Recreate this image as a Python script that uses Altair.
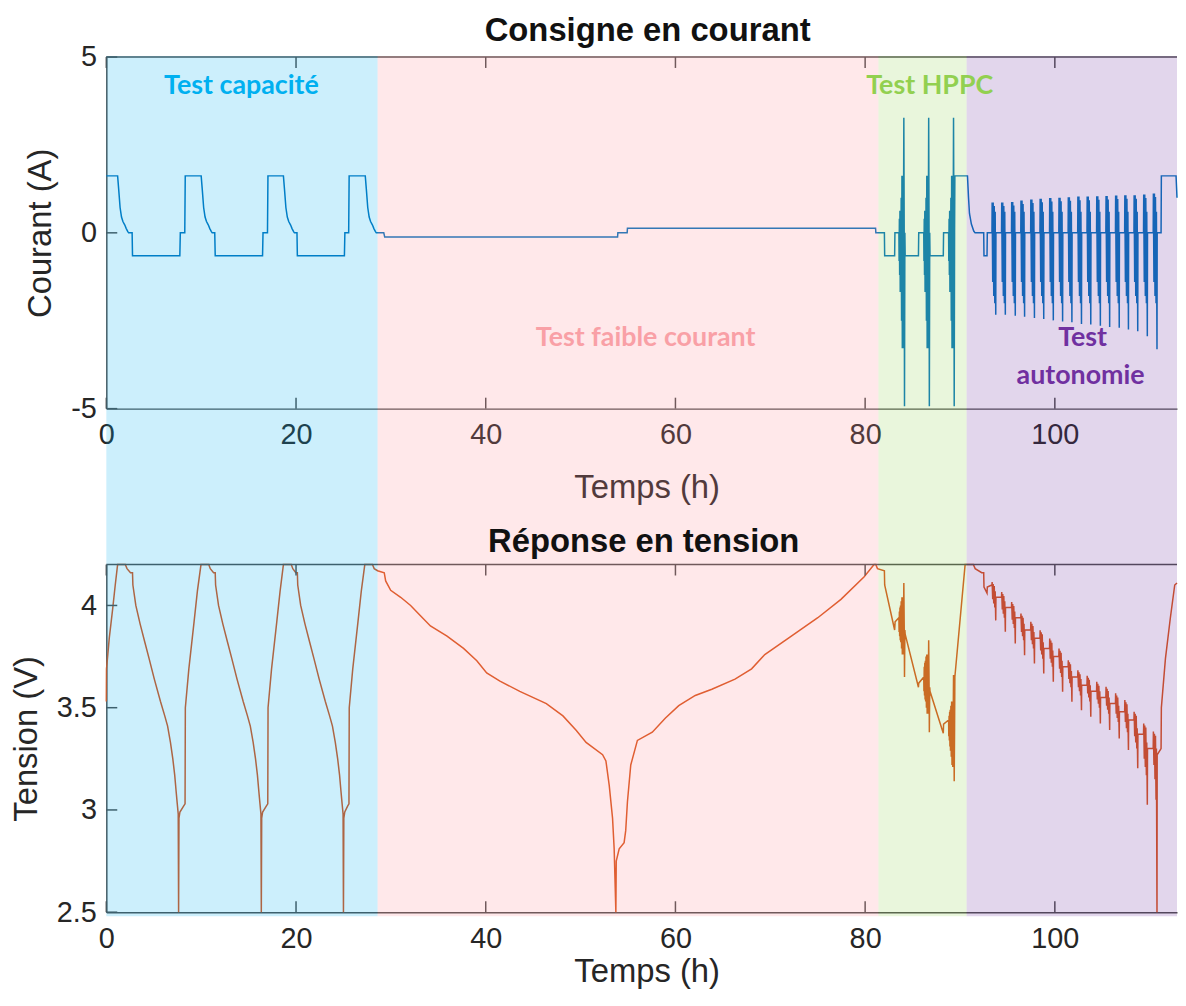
import altair as alt
import pandas as pd

# ---------------- values ----------------
xticks = [0, 20, 40, 60, 80, 100]
yticks_cur = [-5, 0, 5]
yticks_volt = [2.5, 3, 3.5, 4]

# Courant (A) : test capacité
cap_t = [0.0, 1.19, 1.30, 1.45, 1.60, 1.75, 1.95, 2.10, 2.25, 2.35,
         2.72, 2.76, 7.75, 7.80, 8.27, 8.32, 10.00,
         10.11, 10.26, 10.41, 10.56, 10.76, 10.91, 11.06, 11.16,
         11.43, 11.48, 16.47, 16.52, 16.99, 17.04, 18.67,
         18.78, 18.93, 19.08, 19.23, 19.43, 19.58, 19.73, 19.83,
         20.10, 20.14, 25.10, 25.15, 25.55, 25.60, 27.30,
         27.41, 27.56, 27.71, 27.86, 28.06, 28.21, 28.36, 28.46,
         29.25, 29.35]
cap_i = [1.62, 1.62, 1.25, 0.72, 0.45, 0.32, 0.22, 0.12, 0.04, 0.0,
         0.0, -0.65, -0.65, 0.0, 0.0, 1.62, 1.62,
         1.25, 0.72, 0.45, 0.32, 0.22, 0.12, 0.04, 0.0,
         0.0, -0.65, -0.65, 0.0, 0.0, 1.62, 1.62,
         1.25, 0.72, 0.45, 0.32, 0.22, 0.12, 0.04, 0.0,
         0.0, -0.65, -0.65, 0.0, 0.0, 1.62, 1.62,
         1.25, 0.72, 0.45, 0.32, 0.22, 0.12, 0.04, 0.0,
         0.0, -0.12]

# Courant : test faible courant
low_t = [53.90, 53.93, 54.91, 54.94, 81.10, 81.13, 82.03, 82.06, 83.11, 83.14]
low_i = [-0.12, 0.0, 0.0, 0.13, 0.13, 0.0, 0.0, -0.65, -0.65, 0.0]

# Courant : test HPPC
hppc_t = [83.56, 83.58, 83.61, 83.64, 83.67, 83.70, 83.73, 83.76, 83.80, 83.84,
          83.88, 83.92, 83.96, 84.00, 84.04, 84.08, 84.12, 84.15, 84.19, 84.22,
          85.62, 85.65,
          86.18, 86.20, 86.23, 86.26, 86.29, 86.32, 86.35, 86.38, 86.42, 86.46,
          86.50, 86.54, 86.58, 86.62, 86.66, 86.70, 86.74, 86.77, 86.81, 86.84,
          88.24, 88.27,
          88.80, 88.82, 88.85, 88.88, 88.91, 88.94, 88.97, 89.00, 89.04, 89.08,
          89.12, 89.16, 89.20, 89.24, 89.28, 89.32, 89.36, 89.39, 89.43,
          89.46, 90.79, 90.90, 91.00, 91.20, 91.45, 91.59, 92.50, 92.53, 92.85, 92.88]
hppc_i = [0.0, -0.8, 0.4, -1.2, 0.63, -1.68, 0.63, -1.68, 1.0, -2.5,
          1.62, -3.28, 1.62, -3.28, 0.0, 3.27, 0.0, -4.93, 0.0, -0.65,
          -0.65, 0.0,
          0.0, -0.8, 0.4, -1.2, 0.63, -1.68, 0.63, -1.68, 1.0, -2.5,
          1.62, -3.28, 1.62, -3.28, 0.0, 3.27, 0.0, -4.93, 0.0, -0.65,
          -0.65, 0.0,
          0.0, -0.8, 0.4, -1.2, 0.63, -1.68, 0.63, -1.68, 1.0, -2.5,
          1.62, -3.28, 1.62, -3.28, 0.0, 3.27, 0.0, -4.93, 0.0,
          1.62, 1.62, 1.0, 0.55, 0.25, 0.05, 0.0, 0.0, -0.65, -0.65, 0.0]

# Test autonomie : 18 salves (temps communs au courant et à la tension)
auto_t = [
    93.37, 93.39, 93.45, 93.50, 93.56, 93.61, 93.67, 93.71, 93.77, 93.79,
    94.38, 94.40, 94.46, 94.51, 94.57, 94.62, 94.68, 94.72, 94.78, 94.80,
    95.43, 95.45, 95.51, 95.56, 95.62, 95.67, 95.73, 95.77, 95.83, 95.85,
    96.41, 96.43, 96.49, 96.54, 96.60, 96.65, 96.71, 96.75, 96.81, 96.83,
    97.45, 97.47, 97.53, 97.58, 97.64, 97.69, 97.75, 97.79, 97.85, 97.87,
    98.43, 98.45, 98.51, 98.56, 98.62, 98.67, 98.73, 98.77, 98.83, 98.85,
    99.44, 99.46, 99.52, 99.57, 99.63, 99.68, 99.74, 99.78, 99.84, 99.86,
    100.42, 100.44, 100.50, 100.55, 100.61, 100.66, 100.72, 100.76, 100.82, 100.84,
    101.40, 101.42, 101.48, 101.53, 101.59, 101.64, 101.70, 101.74, 101.80, 101.82,
    102.41, 102.43, 102.49, 102.54, 102.60, 102.65, 102.71, 102.75, 102.81, 102.83,
    103.39, 103.41, 103.47, 103.52, 103.58, 103.63, 103.69, 103.73, 103.79, 103.81,
    104.40, 104.42, 104.48, 104.53, 104.59, 104.64, 104.70, 104.74, 104.80, 104.82,
    105.38, 105.40, 105.46, 105.51, 105.57, 105.62, 105.68, 105.72, 105.78, 105.80,
    106.39, 106.41, 106.47, 106.52, 106.58, 106.63, 106.69, 106.73, 106.79, 106.81,
    107.36, 107.38, 107.44, 107.49, 107.55, 107.60, 107.66, 107.70, 107.76, 107.78,
    108.34, 108.36, 108.42, 108.47, 108.53, 108.58, 108.64, 108.68, 108.74, 108.76,
    109.35, 109.37, 109.43, 109.48, 109.54, 109.59, 109.65, 109.69, 109.75, 109.77,
    110.37, 110.39, 110.45, 110.50, 110.56, 110.61, 110.67, 110.71, 110.77, 110.79,
]
auto_i = [
    0, 0.86, -1.4, 0.86, -1.8, 0.76, -2.0, 0.6, -2.33, 0,
    0, 0.86, -1.4, 0.86, -1.8, 0.76, -2.0, 0.6, -2.33, 0,
    0, 0.88, -1.4, 0.88, -1.8, 0.78, -2.0, 0.6, -2.36, 0,
    0, 0.92, -1.4, 0.92, -1.8, 0.82, -2.0, 0.6, -2.39, 0,
    0, 0.95, -1.4, 0.95, -1.8, 0.85, -2.0, 0.6, -2.42, 0,
    0, 0.97, -1.4, 0.97, -1.8, 0.87, -2.0, 0.6, -2.45, 0,
    0, 0.99, -1.4, 0.99, -1.8, 0.89, -2.0, 0.6, -2.49, 0,
    0, 1.00, -1.4, 1.00, -1.8, 0.90, -2.0, 0.6, -2.52, 0,
    0, 1.01, -1.4, 1.01, -1.8, 0.91, -2.0, 0.6, -2.54, 0,
    0, 1.03, -1.4, 1.03, -1.8, 0.93, -2.0, 0.6, -2.59, 0,
    0, 1.03, -1.4, 1.03, -1.8, 0.93, -2.0, 0.6, -2.61, 0,
    0, 1.04, -1.4, 1.04, -1.8, 0.94, -2.0, 0.6, -2.64, 0,
    0, 1.05, -1.4, 1.05, -1.8, 0.95, -2.0, 0.6, -2.68, 0,
    0, 1.06, -1.4, 1.06, -1.8, 0.96, -2.0, 0.6, -2.70, 0,
    0, 1.07, -1.4, 1.07, -1.8, 0.97, -2.0, 0.6, -2.75, 0,
    0, 1.07, -1.4, 1.07, -1.8, 0.97, -2.0, 0.6, -2.80, 0,
    0, 1.09, -1.4, 1.09, -1.8, 0.99, -2.0, 0.6, -2.94, 0,
    0, 1.12, -1.4, 1.12, -1.8, 1.02, -2.0, 0.6, -3.31, 0,
]
auto_v = [
    4.10, 4.115, 4.03, 4.105, 4.01, 4.095, 3.99, 4.07, 3.927, 4.04,
    4.04, 4.066, 3.98, 4.056, 3.96, 4.046, 3.94, 4.02, 3.871, 3.99,
    3.99, 4.017, 3.93, 4.007, 3.91, 3.997, 3.89, 3.97, 3.814, 3.94,
    3.94, 3.96, 3.87, 3.95, 3.85, 3.94, 3.83, 3.91, 3.757, 3.88,
    3.88, 3.92, 3.83, 3.91, 3.81, 3.90, 3.79, 3.87, 3.716, 3.84,
    3.84, 3.879, 3.78, 3.869, 3.76, 3.859, 3.74, 3.82, 3.667, 3.79,
    3.79, 3.838, 3.74, 3.828, 3.72, 3.818, 3.70, 3.78, 3.627, 3.75,
    3.75, 3.789, 3.69, 3.779, 3.67, 3.769, 3.65, 3.73, 3.578, 3.70,
    3.70, 3.732, 3.64, 3.722, 3.62, 3.712, 3.60, 3.68, 3.529, 3.65,
    3.65, 3.683, 3.60, 3.673, 3.58, 3.663, 3.56, 3.64, 3.488, 3.61,
    3.61, 3.656, 3.57, 3.646, 3.55, 3.636, 3.53, 3.61, 3.456, 3.58,
    3.58, 3.627, 3.54, 3.617, 3.52, 3.607, 3.50, 3.58, 3.423, 3.55,
    3.55, 3.602, 3.51, 3.592, 3.49, 3.582, 3.47, 3.55, 3.391, 3.52,
    3.52, 3.57, 3.47, 3.56, 3.45, 3.55, 3.43, 3.51, 3.35, 3.48,
    3.48, 3.537, 3.43, 3.527, 3.40, 3.517, 3.38, 3.47, 3.293, 3.44,
    3.44, 3.48, 3.36, 3.47, 3.33, 3.46, 3.30, 3.40, 3.204, 3.37,
    3.37, 3.423, 3.25, 3.413, 3.21, 3.403, 3.17, 3.33, 3.025, 3.30,
    3.30, 3.383, 3.22, 3.373, 3.15, 3.363, 3.05, 3.30, 2.50, 3.27,
]

# Courant : fin (recharge)
end_t = [111.20, 111.23, 112.78, 112.88]
end_i = [0.0, 1.62, 1.62, 1.0]

# Tension (V) : test capacité
vcap_t = [0.0, 0.02, 0.31, 0.66, 0.94, 1.19, 2.00, 2.18, 2.55,
          2.76, 2.80, 3.11, 3.56, 4.06, 4.51, 5.06, 5.71, 6.16, 6.46, 6.76,
          7.01, 7.21, 7.36, 7.48, 7.58, 7.62, 7.66, 7.76, 8.16, 8.30,
          8.33, 8.70, 9.25, 9.60, 9.98, 10.80, 10.96, 11.31,
          11.48, 11.52, 11.83, 12.28, 12.78, 13.23, 13.78, 14.43, 14.88, 15.18,
          15.48, 15.73, 15.93, 16.08, 16.20, 16.30, 16.34, 16.38, 16.48, 16.88, 17.02,
          17.05, 17.42, 17.97, 18.32, 18.67, 19.50, 19.66, 19.98,
          20.14, 20.18, 20.49, 20.94, 21.44, 21.89, 22.44, 23.09, 23.54, 23.84,
          24.14, 24.39, 24.59, 24.74, 24.86, 24.96, 25.00, 25.04, 25.14, 25.45, 25.58,
          25.61, 25.98, 26.53, 26.88, 27.25, 28.06, 28.24]
vcap_v = [3.53, 3.69, 3.84, 3.98, 4.10, 4.20, 4.20, 4.18, 4.16,
          4.16, 4.10, 4.00, 3.91, 3.82, 3.74, 3.64, 3.53, 3.46, 3.41, 3.33,
          3.25, 3.17, 3.09, 3.03, 2.98, 2.50, 2.96, 2.99, 3.02, 3.03,
          3.50, 3.69, 3.92, 4.07, 4.20, 4.20, 4.18, 4.16,
          4.16, 4.10, 4.00, 3.91, 3.82, 3.74, 3.64, 3.53, 3.46, 3.41,
          3.33, 3.25, 3.17, 3.09, 3.03, 2.98, 2.50, 2.96, 2.99, 3.02, 3.03,
          3.50, 3.69, 3.92, 4.07, 4.20, 4.20, 4.18, 4.16,
          4.16, 4.10, 4.00, 3.91, 3.82, 3.74, 3.64, 3.53, 3.46, 3.41,
          3.33, 3.25, 3.17, 3.09, 3.03, 2.98, 2.50, 2.96, 2.99, 3.02, 3.03,
          3.50, 3.69, 3.92, 4.07, 4.20, 4.20, 4.18]

# Tension : test faible courant
vlow_t = [28.60, 29.30, 29.45, 29.98, 31.03, 32.08, 33.12, 34.17, 35.92, 37.66,
          39.06, 40.10, 41.50, 43.59, 46.39, 48.14, 49.53, 50.58, 52.32, 52.67,
          53.02, 53.37, 53.54, 53.72, 53.76, 54.07, 54.59, 54.76, 54.94, 55.29,
          55.99, 57.56, 58.95, 60.35, 62.09, 63.84, 66.28, 68.03, 69.42, 72.22,
          75.01, 77.45, 79.90, 80.94, 81.12, 81.30, 82.03]
vlow_v = [4.17, 4.16, 4.12, 4.074, 4.04, 4.00, 3.95, 3.90, 3.85, 3.79,
          3.73, 3.67, 3.63, 3.58, 3.52, 3.46, 3.39, 3.33, 3.27, 3.24,
          3.12, 2.96, 2.81, 2.50, 2.75, 2.81, 2.84, 2.90, 3.04, 3.22,
          3.34, 3.38, 3.45, 3.51, 3.56, 3.59, 3.64, 3.69, 3.76, 3.85,
          3.94, 4.03, 4.14, 4.20, 4.20, 4.18, 4.17]

# Tension : test HPPC
vhppc_t = [82.06, 83.11, 83.16, 83.56,
           83.58, 83.61, 83.64, 83.67, 83.70, 83.73, 83.76, 83.80, 83.84, 83.88,
           83.92, 83.96, 84.00, 84.04, 84.08, 84.12, 84.15, 84.19, 84.22, 85.62,
           85.65, 86.18,
           86.20, 86.23, 86.26, 86.29, 86.32, 86.35, 86.38, 86.42, 86.46, 86.50,
           86.54, 86.58, 86.62, 86.66, 86.70, 86.74, 86.77, 86.81, 86.84, 88.24,
           88.27, 88.80,
           88.82, 88.85, 88.88, 88.91, 88.94, 88.97, 89.00, 89.04, 89.08, 89.12,
           89.16, 89.20, 89.24, 89.28, 89.32, 89.36, 89.39, 89.43, 89.46, 90.54,
           91.41, 91.60, 92.29, 92.50, 92.53, 92.85, 92.88]
vhppc_v = [4.10, 3.88, 3.92, 3.94,
           3.87, 3.97, 3.85, 3.99, 3.83, 4.00, 3.82, 4.02, 3.79, 4.04,
           3.76, 4.04, 3.76, 3.92, 4.11, 3.90, 3.65, 3.88, 3.86, 3.60,
           3.62, 3.65,
           3.58, 3.70, 3.56, 3.72, 3.54, 3.73, 3.53, 3.75, 3.50, 3.76,
           3.47, 3.76, 3.47, 3.63, 3.83, 3.62, 3.38, 3.60, 3.58, 3.375,
           3.42, 3.44,
           3.36, 3.46, 3.34, 3.48, 3.31, 3.49, 3.29, 3.51, 3.26, 3.53,
           3.22, 3.53, 3.21, 3.42, 3.66, 3.42, 3.14, 3.40, 3.65, 4.20,
           4.20, 4.18, 4.16, 4.16, 4.09, 4.06, 4.09]

# Tension : fin (recharge)
vend_t = [110.79, 111.20, 111.23, 111.66, 112.18, 112.64, 112.88]
vend_v = [3.27, 3.30, 3.50, 3.74, 3.94, 4.10, 4.11]

# Zones de test
band_names = ["Test capacité", "Test faible courant", "Test HPPC", "Test autonomie"]
band_start = [0.0, 28.6, 81.4, 90.7]
band_end = [28.6, 81.4, 90.7, 112.88]

# Annotations
anno_labels = ["Test capacité", "Test faible courant", "Test HPPC", "Test", "autonomie"]
anno_t = [14.24, 56.86, 86.81, 102.93, 102.72]
anno_a = [4.18, -2.99, 4.18, -2.99, -4.07]

# ---------------- checks ----------------
assert len(cap_t) == len(cap_i)
assert len(low_t) == len(low_i)
assert len(hppc_t) == len(hppc_i)
assert len(auto_t) == len(auto_i) == len(auto_v)
assert len(vcap_t) == len(vcap_v)
assert len(vlow_t) == len(vlow_v)
assert len(vhppc_t) == len(vhppc_v)

# ---------------- tables ----------------
cur_df = pd.DataFrame({"t": cap_t + low_t + hppc_t + auto_t + end_t,
                       "a": cap_i + low_i + hppc_i + auto_i + end_i})
cur_df["k"] = range(len(cur_df))
volt_df = pd.DataFrame({"t": vcap_t + vlow_t + vhppc_t + auto_t + vend_t,
                        "v": vcap_v + vlow_v + vhppc_v + auto_v + vend_v})
volt_df["k"] = range(len(volt_df))
bands_df = pd.DataFrame({"zone": band_names, "t0": band_start, "t1": band_end})
anno_df = pd.DataFrame({"label": anno_labels, "t": anno_t, "a": anno_a})
xt_df = pd.DataFrame({"t": xticks})
ytc_df = pd.DataFrame({"a": yticks_cur})
ytv_df = pd.DataFrame({"v": yticks_volt})

# ---------------- layout / style ----------------
W = 1078
H = 861
TOP_H = 354
BOT_Y0 = 511
XMAX = 112.88
AX = "#4d4d4d"
TXT = "#262626"
FONT = "Liberation Sans"
AFONT = "Lato"

xs = alt.Scale(domain=[0, XMAX], nice=False, zero=False)
ys_cur = alt.Scale(domain=[-5, 5], range=[TOP_H, 0], nice=False, zero=False)
ys_volt = alt.Scale(domain=[2.5, 4.2], range=[H, BOT_Y0], nice=False, zero=False)

common = dict(grid=False, domainColor=AX, domainWidth=1.5, ticks=False, tickSize=0,
              labelFont=FONT, labelFontSize=29, labelColor=TXT,
              titleFont=FONT, titleFontSize=33, titleFontWeight="normal", titleColor=TXT,
              labelFlush=False, zindex=0, titleBaseline="middle",
              labelExpr="datum.value + ''")

ax_x_top = alt.Axis(orient="bottom", offset=-(H - TOP_H), values=xticks, title="Temps (h)",
                    labelPadding=12, titleY=79, titleX=544, **common)
ax_x_bot = alt.Axis(orient="bottom", values=xticks, title="Temps (h)",
                    labelPadding=13, titleY=60, titleX=544, **common)
ax_y_cur = alt.Axis(orient="left", values=yticks_cur, title="Courant (A)",
                    labelPadding=10, titleX=-66, **common)
ax_y_volt = alt.Axis(orient="left", values=yticks_volt, title="Tension (V)",
                     labelPadding=10, titleX=-80, **common)

cur_line = alt.Chart(cur_df).mark_line(color="#0072BD", strokeWidth=1.5).encode(
    x=alt.X("t:Q", scale=xs, axis=ax_x_top),
    y=alt.Y("a:Q", scale=ys_cur, axis=ax_y_cur),
    order="k:Q",
)
volt_line = alt.Chart(volt_df).mark_line(color="#D95319", strokeWidth=1.5).encode(
    x=alt.X("t:Q", scale=xs, axis=ax_x_bot),
    y=alt.Y("v:Q", scale=ys_volt, axis=ax_y_volt),
    order="k:Q",
)

def xtick_layer(y0, y1):
    return alt.Chart(xt_df).mark_rule(color=AX, strokeWidth=1.5).encode(
        x=alt.X("t:Q", scale=xs, axis=None), y=alt.value(y0), y2=alt.value(y1))

ytick_cur = alt.Chart(ytc_df).mark_rule(color=AX, strokeWidth=1.5).encode(
    y=alt.Y("a:Q", scale=ys_cur, axis=None), x=alt.value(0), x2=alt.value(11))
ytick_volt = alt.Chart(ytv_df).mark_rule(color=AX, strokeWidth=1.5).encode(
    y=alt.Y("v:Q", scale=ys_volt, axis=None), x=alt.value(0), x2=alt.value(11))

edge_cur = alt.Chart(pd.DataFrame({"a": [5.0]})).mark_rule(color=AX, strokeWidth=1.5).encode(
    y=alt.Y("a:Q", scale=ys_cur, axis=None), x=alt.value(0), x2=alt.value(W))
edge_volt = alt.Chart(pd.DataFrame({"v": [4.2]})).mark_rule(color=AX, strokeWidth=1.5).encode(
    y=alt.Y("v:Q", scale=ys_volt, axis=None), x=alt.value(0), x2=alt.value(W))

bands = alt.Chart(bands_df).mark_rect(opacity=0.2).encode(
    x=alt.X("t0:Q", scale=xs, axis=None),
    x2="t1:Q",
    y=alt.value(-1),
    y2=alt.value(865),
    color=alt.Color("zone:N", legend=None,
                    scale=alt.Scale(domain=band_names,
                                    range=["#00B0F0", "#FF8C94", "#92D050", "#7030A0"])),
)

annos = alt.Chart(anno_df).mark_text(font=AFONT, fontWeight="bold", fontSize=27,
                                     align="center", baseline="middle").encode(
    x=alt.X("t:Q", scale=xs, axis=None),
    y=alt.Y("a:Q", scale=ys_cur, axis=None),
    text="label:N",
    color=alt.Color("label:N", legend=None,
                    scale=alt.Scale(domain=anno_labels,
                                    range=["#00B0F0", "#F9A0A6", "#92D050", "#7030A0", "#7030A0"])),
)

title_top = alt.Chart(pd.DataFrame({"s": ["Consigne en courant"]})).mark_text(
    font=FONT, fontWeight="bold", fontSize=33, color="#111111", align="center", baseline="middle"
).encode(text="s:N", x=alt.value(545), y=alt.value(-26))
title_bot = alt.Chart(pd.DataFrame({"s": ["Réponse en tension"]})).mark_text(
    font=FONT, fontWeight="bold", fontSize=33, color="#111111", align="center", baseline="middle"
).encode(text="s:N", x=alt.value(541), y=alt.value(488))

chart = alt.layer(
    cur_line, volt_line,
    xtick_layer(TOP_H - 11, TOP_H), xtick_layer(0, 11),
    xtick_layer(BOT_Y0, BOT_Y0 + 11), xtick_layer(H - 11, H),
    ytick_cur, ytick_volt, edge_cur, edge_volt,
    bands, annos, title_top, title_bot,
).resolve_scale(
    x="independent", y="independent", color="independent"
).properties(
    width=W, height=H,
    autosize=alt.AutoSizeParams(type="none"),
    padding={"left": 99, "top": 46, "right": 1, "bottom": 78},
).configure_view(stroke=None)

chart.save("out.html", embed_options={"renderer": "svg", "actions": False})
